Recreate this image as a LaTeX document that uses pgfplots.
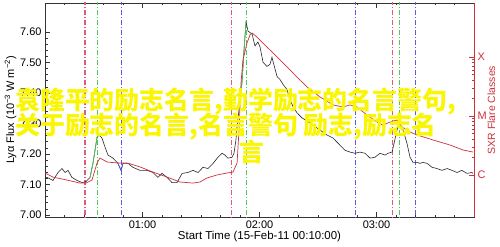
\documentclass[border=0pt]{standalone}
\usepackage{pgfplots}
\pgfplotsset{compat=1.18}
\usepackage{fontspec}
\setmainfont{Liberation Sans}
\newfontfamily\cjk{Noto Sans CJK SC}
\definecolor{sxr}{RGB}{205,50,60}
\definecolor{vred}{RGB}{225,90,120}
\definecolor{vgreen}{RGB}{80,200,90}
\definecolor{vblue}{RGB}{90,90,230}
\definecolor{wm}{RGB}{250,245,0}
\begin{document}
\begin{tikzpicture}[x=1bp,y=1bp]
\begin{axis}[at={(0,0)},anchor=south west,scale only axis,width=429bp,height=214bp,
  xmin=10,xmax=230,ymin=6.993,ymax=7.695,
  xtick={60,120,180},xticklabels={01:00,02:00,03:00},
  minor xtick={10,20,30,40,50,70,80,90,100,110,130,140,150,160,170,190,200,210,220,230},
  ytick={7.0,7.1,7.2,7.3,7.4,7.5,7.6},
  yticklabels={7.00,7.10,7.20,7.30,7.40,7.50,7.60},
  minor y tick num=4,
  ytick pos=left,
  major tick length=5bp, minor tick length=2.5bp,
  axis line style={line width=0.7pt,black!80},
  every tick/.style={black!80,line width=0.5pt},
  tick label style={font=\fontsize{11}{12}\selectfont},
  /pgf/number format/assume math mode=true,
  xlabel={Start Time (15-Feb-11 00:10:00)},
  xlabel style={font=\fontsize{11.5}{12}\selectfont, yshift=4bp},
  ylabel={Lyα Flux (10\textsuperscript{−3} W m\textsuperscript{−2})},
  ylabel style={font=\fontsize{11}{12}\selectfont, yshift=-3bp},
  clip=true]
\addplot[draw=vred,line width=1.1pt,dash pattern=on 5bp off 2bp on 1bp off 2bp] coordinates {(30.5,6.9) (30.5,7.8)};
\addplot[draw=vgreen,line width=1.1pt,dash pattern=on 5bp off 2bp on 1bp off 2bp] coordinates {(36.7,6.9) (36.7,7.8)};
\addplot[draw=vblue,line width=1.1pt,dash pattern=on 5bp off 2bp on 1bp off 2bp] coordinates {(49.0,6.9) (49.0,7.8)};
\addplot[draw=vred,line width=1.1pt,dash pattern=on 5bp off 2bp on 1bp off 2bp] coordinates {(105.6,6.9) (105.6,7.8)};
\addplot[draw=vgreen,line width=1.1pt,dash pattern=on 5bp off 2bp on 1bp off 2bp] coordinates {(113.3,6.9) (113.3,7.8)};
\addplot[draw=vblue,line width=1.1pt,dash pattern=on 5bp off 2bp on 1bp off 2bp] coordinates {(169.3,6.9) (169.3,7.8)};
\addplot[draw=vred,line width=1.1pt,dash pattern=on 5bp off 2bp on 1bp off 2bp] coordinates {(188.0,6.9) (188.0,7.8)};
\addplot[draw=vgreen,line width=1.1pt,dash pattern=on 5bp off 2bp on 1bp off 2bp] coordinates {(192.0,6.9) (192.0,7.8)};
\addplot[draw=vblue,line width=1.1pt,dash pattern=on 5bp off 2bp on 1bp off 2bp] coordinates {(200.0,6.9) (200.0,7.8)};
\addplot[black!85,line width=0.6pt] coordinates {
(10,7.119) (11.0,7.123) (14.1,7.113) (16.7,7.139) (18.7,7.152) (20.3,7.139) (21.8,7.146)
(23.8,7.123) (26.4,7.113) (29.0,7.106) (31.0,7.109) (33.1,7.123) (34.6,7.169) (36.7,7.255)
(37.7,7.262) (39.2,7.252) (40.8,7.222) (42.3,7.196) (44.9,7.186) (47.4,7.169) (49.0,7.146)
(50.0,7.169) (52.6,7.169) (55.1,7.156) (58.7,7.146) (62.3,7.146) (65.4,7.139) (67.9,7.123)
(70.0,7.136) (72.6,7.123) (75.1,7.106) (77.7,7.106) (80.3,7.136) (83.3,7.139) (85.9,7.146)
(88.5,7.139) (91.0,7.156) (93.6,7.152) (96.2,7.169) (98.7,7.189) (100.8,7.202) (102.3,7.196)
(103.8,7.186) (105.9,7.189) (106.9,7.202) (107.9,7.245) (108.5,7.290) (109.5,7.345) (111.0,7.434)
(112.1,7.544) (113.1,7.633) (114.1,7.603) (116.2,7.593) (117.7,7.554) (119.2,7.567) (120.3,7.550)
(121.8,7.501) (123.8,7.487) (125.4,7.494) (126.4,7.517) (126.9,7.504) (129.0,7.454) (130.5,7.444)
(132.1,7.428) (134.1,7.411) (135.6,7.378) (137.2,7.355) (139.2,7.335) (141.8,7.318) (144.4,7.308)
(149.5,7.285) (154.6,7.262) (157.7,7.252) (160.3,7.235) (163.8,7.212) (166.4,7.206) (169.0,7.202)
(171.5,7.206) (174.1,7.202) (176.7,7.186) (179.2,7.189) (181.8,7.202) (184.4,7.196) (185.9,7.202)
(188.0,7.206) (189.0,7.235) (190.5,7.278) (191.5,7.295) (193.1,7.288) (194.1,7.269) (195.6,7.235)
(197.2,7.189) (198.7,7.172) (200.8,7.172) (202.3,7.169) (203.8,7.172) (205.9,7.169) (208.5,7.156)
(211.0,7.152) (213.6,7.146) (216.2,7.152) (218.7,7.146) (221.3,7.139) (223.8,7.146) (226.4,7.136)
(228.9,7.139) (229.5,7.136)};
\addplot[draw=vgreen,line width=0.7pt] coordinates {(33.1,7.123) (34.6,7.169) (36.7,7.255) (37.2,7.260)};
\addplot[draw=vblue,line width=0.7pt] coordinates {(47.4,7.169) (49.0,7.146) (50.0,7.169)};
\addplot[draw=vgreen,line width=0.7pt] coordinates {(109.5,7.345) (111.0,7.434) (112.1,7.544) (113.1,7.633)};
\end{axis}
\begin{axis}[at={(0,0)},anchor=south west,scale only axis,width=429bp,height=214bp,
  xmin=10,xmax=230,ymode=log,ymin=1.94e-7,ymax=8.22e-4,
  axis x line=none, axis y line*=right,
  ytick={1e-6,1e-5,1e-4}, yticklabels={C,M,X},
  major tick length=5bp, minor tick length=2.5bp,
  axis line style={line width=0.7pt,sxr},
  every tick/.style={sxr,line width=0.5pt},
  yticklabel style={font=\fontsize{11}{12}\selectfont,text=sxr},
  ylabel={SXR Flare Classes},
  ylabel shift=-6pt,
  ylabel style={font=\fontsize{10.5}{12}\selectfont,text=sxr},
  clip=true]
\addplot[draw=sxr,line width=0.7pt] coordinates {
(10,1.08e-6) (14.1,9.2e-7) (21.3,8.2e-7) (27.9,7.3e-7) (31.0,7.3e-7) (34.1,8.2e-7) (36.7,1.6e-6)
(38.2,1.94e-6) (41.8,1.66e-6) (46.9,1.6e-6) (52.1,1.6e-6) (58.7,1.37e-6) (65.4,1.12e-6)
(72.6,9.2e-7) (79.2,7.6e-7) (85.9,7.3e-7) (89.5,7.6e-7) (93.1,8.9e-7) (98.2,1.0e-6)
(103.3,1.08e-6) (106.4,1.12e-6) (108.5,1.6e-6) (109.5,5.8e-6) (110.5,3.6e-5) (111.5,8.9e-5)
(113.6,1.73e-4) (115.1,2.36e-4) (116.2,2.55e-4) (118.7,2.18e-4) (123.8,1.48e-4) (129.0,1.0e-4)
(134.1,6.8e-5) (139.2,4.58e-5) (144.4,3.1e-5) (151.0,2.1e-5) (157.7,1.54e-5) (162.8,1.42e-5)
(166.4,1.54e-5) (170.0,1.42e-5) (175.1,1.04e-5) (180.3,7.9e-6) (183.3,7.0e-6) (186.9,7.9e-6)
(190.5,8.55e-6) (193.1,6.5e-6) (197.2,5.36e-6) (200.8,4.76e-6) (209.0,3.92e-6) (217.7,3.22e-6)
(224.4,2.65e-6) (229.5,2.45e-6)};
\end{axis}
\node[anchor=west,inner sep=0,text=wm,font=\cjk\bfseries\fontsize{25}{25}\selectfont] at (-30,115) {袁隆平的励志名言,勤学励志的名言警句,};
\node[anchor=west,inner sep=0,text=wm,font=\cjk\bfseries\fontsize{25}{25}\selectfont] at (-30,90) {关于励志的名言,名言警句 励志,励志名};
\node[inner sep=0,text=wm,font=\cjk\bfseries\fontsize{25}{25}\selectfont] at (207,65) {言};
\pgfresetboundingbox
\path[use as bounding box] (-45,-29) rectangle (455,217);
\end{tikzpicture}
\end{document}
